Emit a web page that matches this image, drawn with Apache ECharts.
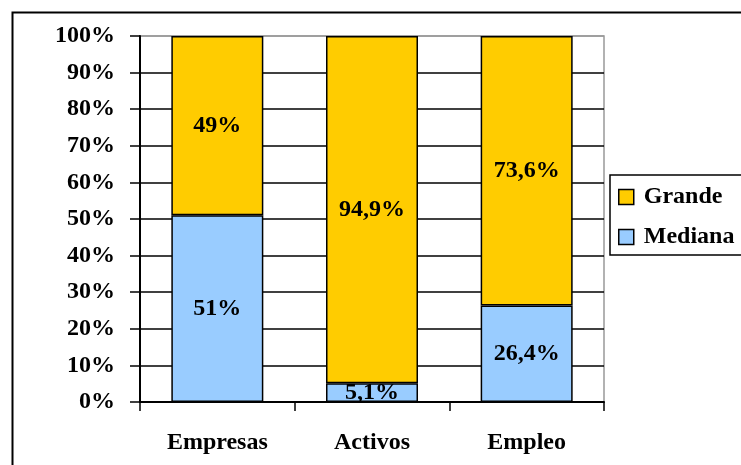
<!DOCTYPE html>
<html>
<head>
<meta charset="utf-8">
<script src="https://cdn.jsdelivr.net/npm/echarts@6/dist/echarts.min.js"></script>
<style>html,body{margin:0;padding:0;background:#fff}#c{width:741px;height:465px}</style>
</head>
<body>
<div id="c"></div>
<script>
const categories = ['Empresas', 'Activos', 'Empleo'];
const mediana = [51, 5.1, 26.4];
const grande = [49, 94.9, 73.6];
const yTicks = [0, 10, 20, 30, 40, 50, 60, 70, 80, 90, 100];

const FONT = '"Liberation Serif", "DejaVu Serif", serif';
const FS = 24;
const fmt = p => String(p.value).replace('.', ',') + '%';
const chart = echarts.init(document.getElementById('c'));
const gridColors = yTicks.map((t, i) => i === yTicks.length - 1 ? '#999' : '#000');

chart.setOption({
  animation: false,
  backgroundColor: '#fff',
  graphic: [{
    type: 'rect', left: 10, top: 10, z: 0,
    shape: { width: 800, height: 500 },
    style: { fill: 'none', stroke: '#000', lineWidth: 2 }
  }],
  grid: { left: 140, top: 36, right: 137, bottom: 63, show: true, borderColor: '#999', borderWidth: 1.5 },
  legend: {
    data: ['Grande', 'Mediana'],
    orient: 'vertical', left: 610, top: 175,
    borderColor: '#000', borderWidth: 1.5,
    padding: [10, 30, 6, 8],
    itemWidth: 15, itemHeight: 15, itemGap: 16,
    icon: 'rect',
    itemStyle: { borderColor: '#000', borderWidth: 1.5 },
    textStyle: { fontFamily: FONT, fontWeight: 'bold', fontSize: FS, color: '#000', padding: [0, 0, 0, 5] }
  },
  xAxis: {
    type: 'category', data: categories,
    axisLine: { lineStyle: { color: '#000', width: 2 } },
    axisTick: { show: true, length: 9, lineStyle: { color: '#000', width: 1.5 } },
    axisLabel: { margin: 29, fontFamily: FONT, fontWeight: 'bold', fontSize: FS, color: '#000' }
  },
  yAxis: {
    type: 'value', min: 0, max: 100, interval: 10,
    axisLine: { show: true, lineStyle: { color: '#000', width: 2 } },
    axisTick: { show: true, length: 10, lineStyle: { color: '#000', width: 1.5 } },
    axisLabel: { margin: 25, formatter: '{value}%', fontFamily: FONT, fontWeight: 'bold', fontSize: FS, color: '#000' },
    splitLine: { show: true, lineStyle: { color: gridColors, width: 1.5 } }
  },
  series: [
    {
      name: 'Mediana', type: 'bar', stack: 'a', data: mediana, barWidth: 92,
      itemStyle: { color: '#99CCFF', borderColor: '#000', borderWidth: 1.5 },
      label: { show: true, position: 'inside', formatter: fmt, fontFamily: FONT, fontWeight: 'bold', fontSize: FS, color: '#000' }
    },
    {
      name: 'Grande', type: 'bar', stack: 'a', data: grande, barWidth: 92,
      itemStyle: { color: '#FFCC00', borderColor: '#000', borderWidth: 1.5 },
      label: { show: true, position: 'inside', formatter: fmt, fontFamily: FONT, fontWeight: 'bold', fontSize: FS, color: '#000' }
    }
  ]
});
</script>
</body>
</html>
